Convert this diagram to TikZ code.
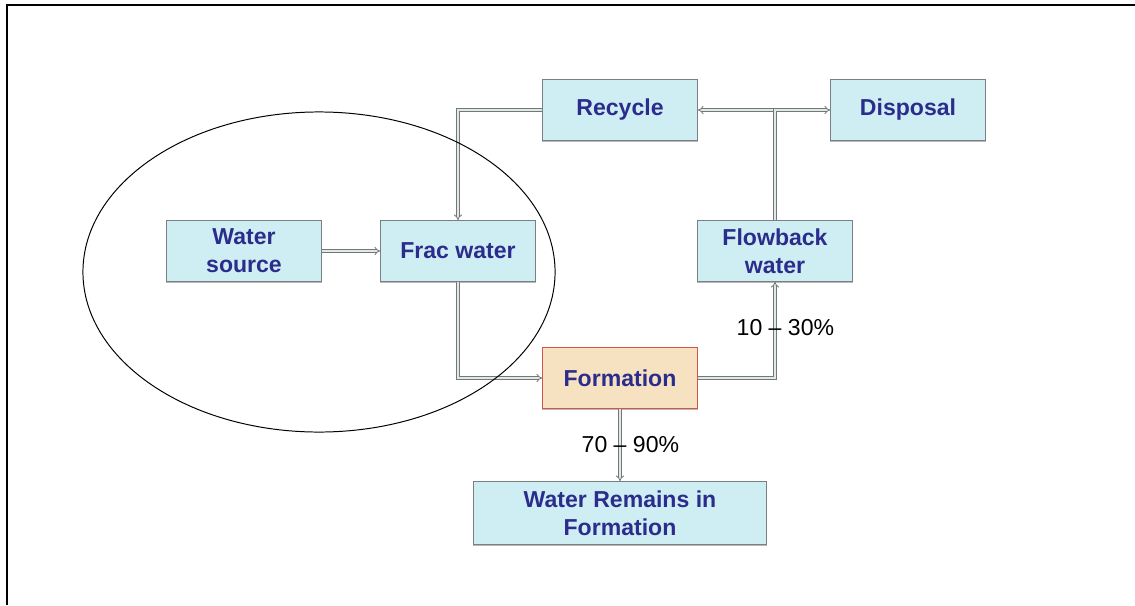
\documentclass[tikz,border=0pt]{standalone}
\usepackage{fontspec}
\setmainfont{Liberation Sans}
\usepackage{tikz}
\usetikzlibrary{arrows.meta,positioning,calc,shapes.geometric,shadows}

\definecolor{boxfill}{RGB}{206,238,243}
\definecolor{boxline}{RGB}{120,128,130}
\definecolor{formfill}{RGB}{246,226,192}
\definecolor{formline}{RGB}{214,84,72}
\definecolor{boxtext}{RGB}{44,44,140}
\definecolor{pipeline}{RGB}{112,120,120}
\definecolor{pipefill}{RGB}{226,232,232}

\begin{document}
\begin{tikzpicture}[
  x=0.025cm, y=-0.025cm,
  font=\fontsize{16.4}{19}\selectfont,
  box/.style={
    draw=boxline,
    fill=boxfill,
    drop shadow={shadow xshift=0pt, shadow yshift=-1.2pt, fill=gray!70, opacity=0.8},
    align=center,
    inner sep=2pt,
    minimum width=3.875cm,
    minimum height=1.525cm,
    line width=0.6pt,
    text=boxtext,
    font=\fontsize{16.4}{20}\selectfont\bfseries
  },
  formbox/.style={box, draw=formline, fill=formfill},
  pipe/.style={
    -{Implies[scale=1.5]},
    draw=pipeline,
    line width=0.6pt,
    double=pipefill,
    double distance=1.4pt
  },
  pct/.style={text=black, inner sep=1pt, xshift=0.26cm},
  frame/.style={line width=1.4pt}
]
  \useasboundingbox (0,0) rectangle (1135,605);
  \draw[frame] (1135,5) -- (7,5) -- (7,605);

  % boxes, left to right
  \node[box] (source) at (244,251) {Water\\source};
  \node[box] (frac) at (458,251) {Frac water};
  \node[box] (recycle) at (620,110) {Recycle};
  \node[box] (disposal) at (908,110) {Disposal};
  \node[box] (flowback) at (775,251) {Flowback\\water};
  \node[formbox] (formation) at (620,378) {Formation};
  \node[box, minimum width=7.325cm, minimum height=1.575cm] (remains) at (620,513)
    {Water Remains in\\Formation};

  \draw[pipe] (source) -- (frac);
  \draw[pipe] (recycle.west) -| (frac.north);
  \draw[pipe] (frac.south) |- (formation.west);
  \draw[pipe] (formation.east) -| node[pct, pos=0.76] (highpct) {10 -- 30\%} (flowback.south);
  \draw[pipe] (flowback.north) |- (recycle.east);
  \draw[pipe] (flowback.north) |- (disposal.west);
  \draw[pipe] (formation.south) -- node[pct] (lowpct) {70 -- 90\%} (remains.north);

  % the ring round the first steps
  \draw[line width=0.7pt] (319,272) ellipse [x radius=5.9cm, y radius=4cm];
\end{tikzpicture}
\end{document}
